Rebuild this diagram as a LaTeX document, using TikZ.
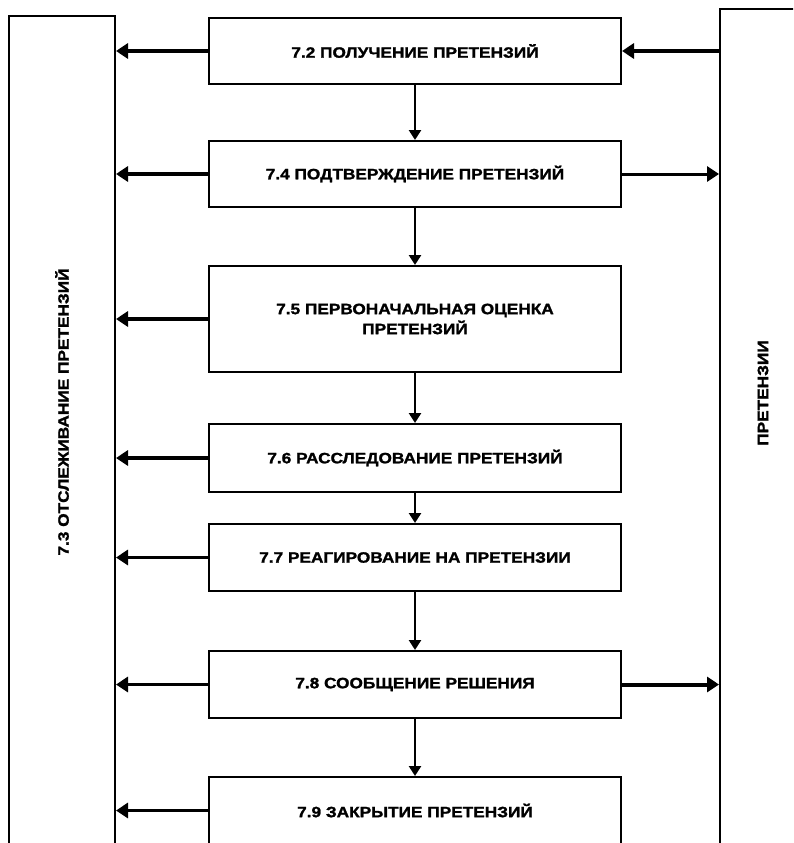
\documentclass[tikz,border=0pt]{standalone}
\usepackage{fontspec}
\newfontfamily\claimfont[FakeStretch=1.15,FakeBold=1.5]{Liberation Sans}
\usetikzlibrary{arrows.meta}

\begin{document}
\begin{tikzpicture}[x=1pt,y=-1pt,every node/.style={font=\claimfont\bfseries\fontsize{15}{20}\selectfont},
  stage/.style={draw,line width=2pt,minimum width=412pt,minimum height=66pt,inner sep=0pt,align=center},
  frame/.style={draw,line width=2pt,minimum height=900pt,inner sep=0pt},
  side/.style={-{Triangle[length=12pt,width=15pt]},line width=3.5pt},
  flow/.style={-{Triangle[length=10pt,width=12pt]},line width=2.5pt}]
  \clip (0,0) rectangle (793,843);
  \fill[white] (0,0) rectangle (793,843);
  % tracking and claims frames
  \node[frame,minimum width=106pt] (track) at (62,466) {};
  \node[frame,minimum width=120pt] (claims) at (780,459) {};
  \node[rotate=90] (tracktext) at (62,412) {7.3 ОТСЛЕЖИВАНИЕ ПРЕТЕНЗИЙ};
  \node[rotate=90] (claimstext) at (763,393) {ПРЕТЕНЗИИ};
  % process stages
  \node[stage,minimum height=65pt] (recv) at (415,51) {7.2 ПОЛУЧЕНИЕ ПРЕТЕНЗИЙ};
  \node[stage] (conf) at (415,174) {7.4 ПОДТВЕРЖДЕНИЕ ПРЕТЕНЗИЙ};
  \node[stage,minimum height=106pt] (eval) at (415,319) {7.5 ПЕРВОНАЧАЛЬНАЯ ОЦЕНКА\\ПРЕТЕНЗИЙ};
  \node[stage,minimum height=68pt] (inv) at (415,458) {7.6 РАССЛЕДОВАНИЕ ПРЕТЕНЗИЙ};
  \node[stage,minimum height=67pt] (resp) at (415,557.5) {7.7 РЕАГИРОВАНИЕ НА ПРЕТЕНЗИИ};
  \node[stage,minimum height=67pt] (dec) at (415,684.5) {7.8 СООБЩЕНИЕ РЕШЕНИЯ};
  \node[stage,minimum height=67pt] (close) at (415,810.5) {7.9 ЗАКРЫТИЕ ПРЕТЕНЗИЙ};
  % main flow
  \draw[flow] (recv) -- (conf);
  \draw[flow] (conf) -- (eval);
  \draw[flow] (eval) -- (inv);
  \draw[flow] (inv) -- (resp);
  \draw[flow] (resp) -- (dec);
  \draw[flow] (dec) -- (close);
  % to tracking
  \foreach \s in {recv,conf,eval,inv,resp,dec,close}
    \draw[side] (\s.west) -- (\s.west -| track.east);
  % claims in and out
  \draw[side] (recv.east -| claims.west) -- (recv.east);
  \draw[side,line width=3pt] (conf.east) -- (conf.east -| claims.west);
  \draw[side,line width=4pt] (dec.east) -- (dec.east -| claims.west);
\end{tikzpicture}
\end{document}
